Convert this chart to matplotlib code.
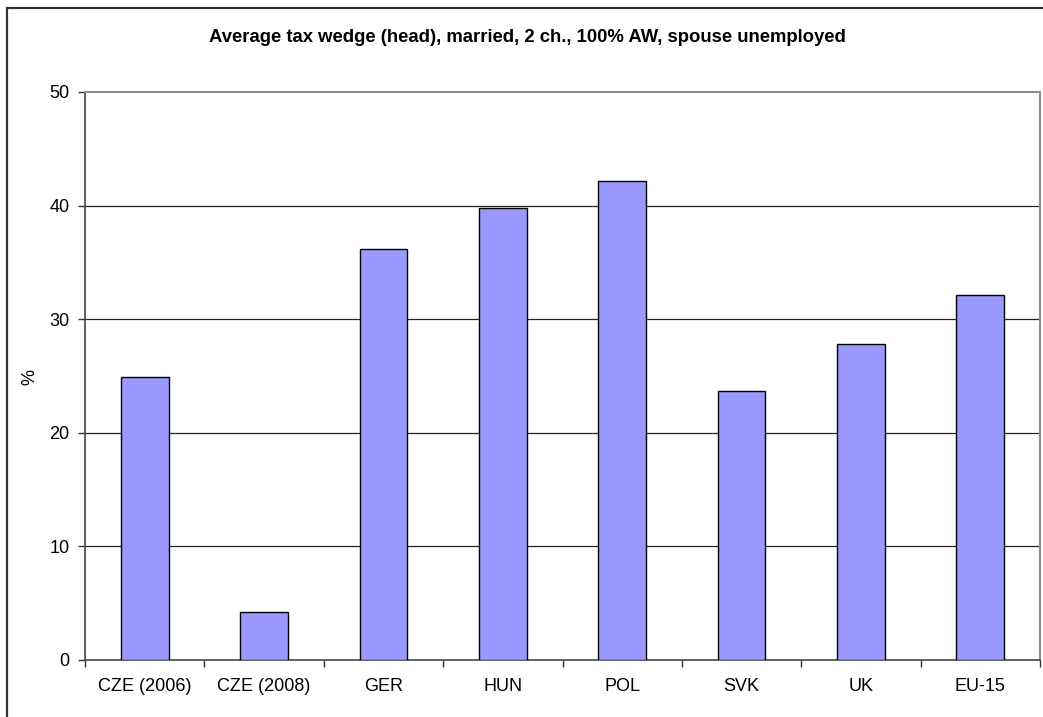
import matplotlib
matplotlib.use("Agg")
import matplotlib.pyplot as plt
from matplotlib.patches import Rectangle
import numpy as np

countries = ["CZE (2006)", "CZE (2008)", "GER", "HUN", "POL", "SVK", "UK", "EU-15"]
tax_wedge = [24.9, 4.2, 36.2, 39.8, 42.2, 23.7, 27.8, 32.1]

plt.rcParams['font.family'] = ['Liberation Sans', 'DejaVu Sans']

W, H = 1043, 717
fig = plt.figure(figsize=(W / 100, H / 100), dpi=100)
ax = fig.add_axes([85 / W, 1 - 660 / H, (1040 - 85) / W, (660 - 92) / H])

# outer chart frame (runs off the right and bottom edge in the original)
fig.patches.append(Rectangle((7 / W, -0.05), 1.1, 1 - 8 / H + 0.05,
                             transform=fig.transFigure, fill=False,
                             edgecolor="#333333", linewidth=1.6))

x = np.arange(len(countries))
ax.bar(x, tax_wedge, width=0.4, color="#9999ff", edgecolor="black",
       linewidth=1.0, zorder=3)

ax.set_xlim(-0.5, len(countries) - 0.5)
ax.set_ylim(0, 50)
ax.set_yticks(range(0, 51, 10))
ax.set_xticks(x)
ax.set_xticklabels(countries, fontsize=13)
ax.set_xticks(np.arange(-0.5, len(countries)), minor=True)
ax.tick_params(axis="x", which="major", length=0, pad=13)
ax.tick_params(axis="x", which="minor", length=5, width=1, color="#333333")
ax.tick_params(axis="y", length=5, width=1, color="#333333", labelsize=13, pad=6)

for v in range(10, 50, 10):
    ax.axhline(v, color="#222222", linewidth=0.9, zorder=1)

for side in ["top", "right"]:
    ax.spines[side].set_color("#8c8c8c")
    ax.spines[side].set_linewidth(1.5)
for side in ["left", "bottom"]:
    ax.spines[side].set_color("#444444")
    ax.spines[side].set_linewidth(1.2)

fig.text(30 / W, 1 - 377 / H, "%", rotation=90, ha="center", va="center", fontsize=13)
fig.text(527 / W, 1 - 38 / H, "Average tax wedge (head), married, 2 ch., 100% AW, spouse unemployed",
         ha="center", va="center", fontsize=13.3, fontweight="bold")

fig.savefig("out.png", dpi=100)
